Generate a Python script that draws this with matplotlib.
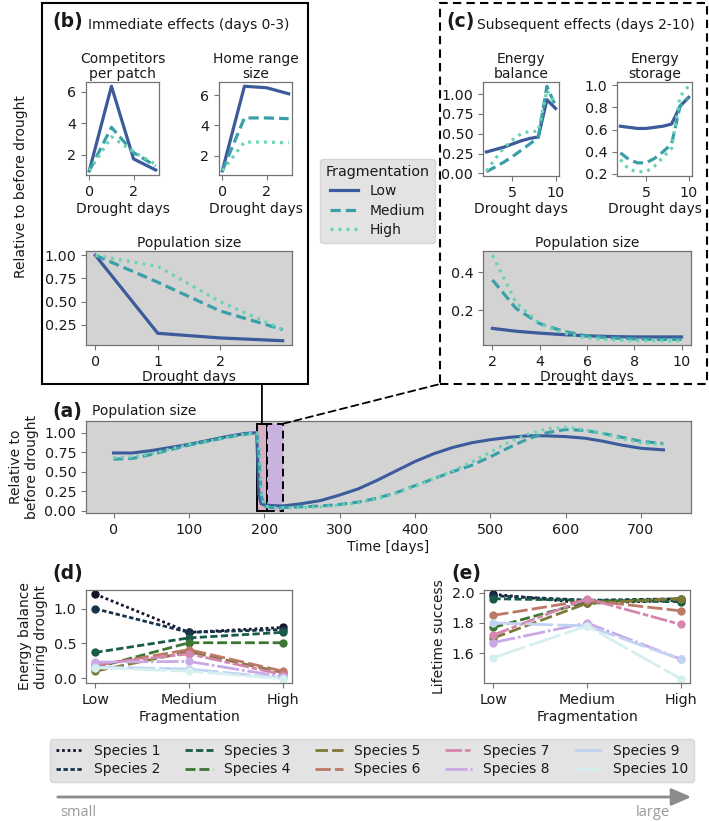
import numpy as np
import matplotlib
matplotlib.use("Agg")
import matplotlib.pyplot as plt
import matplotlib.transforms as mtransforms
import seaborn as sns
from matplotlib.patches import Rectangle, FancyArrowPatch, ConnectionPatch
from matplotlib.lines import Line2D

# ---------------- data ----------------
frag_levels = ["Low", "Medium", "High"]
frag_colors = ["#3c5b9b", "#3a9fa8", "#66d3b2"]

days_b = [0, 1, 2, 3]
comp_low = [1.0, 6.35, 1.75, 1.05]
comp_med = [1.0, 3.75, 2.15, 1.3]
comp_high = [1.0, 3.15, 2.2, 1.4]
home_low = [1.0, 6.6, 6.5, 6.1]
home_med = [1.0, 4.5, 4.5, 4.45]
home_high = [1.0, 2.9, 2.9, 2.85]
popb_low = [1.0, 0.16, 0.11, 0.08]
popb_med = [1.0, 0.71, 0.40, 0.20]
popb_high = [1.0, 0.88, 0.50, 0.20]

days_c = [2, 3, 4, 5, 6, 7, 8, 9, 10]
bal_low = [0.27, 0.30, 0.33, 0.37, 0.41, 0.44, 0.46, 0.93, 0.82]
bal_med = [0.02, 0.08, 0.14, 0.21, 0.29, 0.37, 0.45, 1.10, 0.85]
bal_high = [0.03, 0.18, 0.32, 0.42, 0.50, 0.53, 0.53, 1.05, 0.87]
sto_low = [0.63, 0.62, 0.61, 0.61, 0.62, 0.63, 0.65, 0.81, 0.89]
sto_med = [0.39, 0.33, 0.30, 0.30, 0.34, 0.40, 0.47, 0.81, 0.89]
sto_high = [0.33, 0.24, 0.22, 0.22, 0.27, 0.35, 0.43, 0.90, 0.99]
popc_low = [0.105, 0.09, 0.08, 0.072, 0.066, 0.062, 0.06, 0.06, 0.06]
popc_med = [0.36, 0.21, 0.13, 0.09, 0.065, 0.055, 0.05, 0.047, 0.047]
popc_high = [0.49, 0.24, 0.13, 0.08, 0.055, 0.045, 0.04, 0.04, 0.04]

time_days = [0, 25, 50, 75, 100, 125, 150, 175, 190, 193, 196, 200, 210, 225,
             250, 275, 300, 325, 350, 375, 400, 425, 450, 475, 500, 525, 550,
             575, 600, 625, 650, 675, 700, 730]
pop_low = [0.74, 0.74, 0.77, 0.81, 0.85, 0.90, 0.95, 0.99, 1.00, 0.20, 0.09, 0.075,
           0.065, 0.06, 0.09, 0.13, 0.20, 0.28, 0.39, 0.51, 0.63, 0.73, 0.81,
           0.87, 0.91, 0.94, 0.96, 0.96, 0.95, 0.93, 0.89, 0.84, 0.80, 0.78]
pop_med = [0.66, 0.67, 0.72, 0.78, 0.84, 0.89, 0.94, 0.98, 1.00, 0.70, 0.20, 0.06,
           0.04, 0.04, 0.05, 0.06, 0.08, 0.11, 0.16, 0.23, 0.32, 0.41, 0.50,
           0.58, 0.69, 0.81, 0.92, 1.00, 1.04, 1.03, 0.99, 0.94, 0.89, 0.86]
pop_high = [0.68, 0.69, 0.73, 0.79, 0.85, 0.89, 0.94, 0.98, 1.00, 0.85, 0.25, 0.06,
            0.04, 0.035, 0.04, 0.05, 0.07, 0.10, 0.15, 0.22, 0.31, 0.41, 0.51,
            0.62, 0.75, 0.88, 0.98, 1.05, 1.07, 1.04, 0.99, 0.92, 0.87, 0.85]
drought_windows = [(190, 204), (204, 225)]

species = [f"Species {i}" for i in range(1, 11)]
frag_x = [0, 1, 2]
energy_d = [
    [1.21, 0.66, 0.73],
    [1.00, 0.66, 0.70],
    [0.37, 0.58, 0.66],
    [0.15, 0.51, 0.51],
    [0.10, 0.38, 0.08],
    [0.18, 0.41, 0.10],
    [0.20, 0.35, 0.05],
    [0.23, 0.24, 0.02],
    [0.16, 0.13, 0.00],
    [0.15, 0.10, -0.01],
]
success_e = [
    [1.99, 1.93, 1.95],
    [1.98, 1.95, 1.96],
    [1.96, 1.95, 1.94],
    [1.77, 1.94, 1.96],
    [1.70, 1.93, 1.96],
    [1.85, 1.95, 1.88],
    [1.72, 1.96, 1.79],
    [1.67, 1.80, 1.56],
    [1.80, 1.78, 1.56],
    [1.57, 1.78, 1.43],
]

# ---------------- styling ----------------
W, H = 709, 821
plt.rcParams.update({
    "font.family": ["DejaVu Sans"],
    "font.size": 10,
    "axes.titlesize": 10,
    "axes.labelsize": 10,
    "xtick.labelsize": 10.3,
    "ytick.labelsize": 10.3,
    "legend.fontsize": 10,
    "legend.title_fontsize": 10.3,
    "axes.edgecolor": "0.45",
    "axes.linewidth": 0.9,
    "xtick.color": "0.45",
    "ytick.color": "0.45",
    "xtick.labelcolor": "0.1",
    "ytick.labelcolor": "0.1",
    "xtick.major.size": 3.5,
    "ytick.major.size": 3.5,
    "text.color": "0.1",
    "axes.labelcolor": "0.1",
})
frag_styles = ["-", (0, (3.2, 1.6)), (0, (0.9, 1.6))]
species_colors = sns.color_palette("cubehelix", 10)
species_dashes = [(0, (1, 1)), (0, (1.6, 0.9)), (0, (2.6, 1.2)), (0, (3.6, 1.4)),
                  (0, (4.5, 1.5)), (0, (5.5, 1.5)), (0, (6, 1, 2, 1)),
                  (0, (8, 1, 1, 1)), (0, (10, 1.5)), (0, (12, 1.5))]
GRAY = "#d3d3d3"

fig = plt.figure(figsize=(W / 100, H / 100), dpi=100)


def add_ax(l, t, r, b, **kw):
    return fig.add_axes([l / W, 1 - b / H, (r - l) / W, (b - t) / H], **kw)


def fy(y):
    return 1 - y / H


def plot_frag(ax, x, series, lw=2.3):
    for s, c, ls in zip(series, frag_colors, frag_styles):
        ax.plot(x, s, color=c, linestyle=ls, lw=lw)


# ---------------- panel (b) ----------------
ax = add_ax(86, 82, 159, 175)
plot_frag(ax, days_b, [comp_low, comp_med, comp_high])
ax.set_title("Competitors\nper patch", pad=3, linespacing=1.05)
ax.set_xticks([0, 2]); ax.set_yticks([2, 4, 6])
ax.set_xlabel("Drought days", labelpad=2)

ax = add_ax(219, 82, 292, 175)
plot_frag(ax, days_b, [home_low, home_med, home_high])
ax.set_title("Home range\nsize", pad=3, linespacing=1.05)
ax.set_xticks([0, 2]); ax.set_yticks([2, 4, 6])
ax.set_xlabel("Drought days", labelpad=2)

ax = add_ax(86, 251, 292, 345)
ax.set_facecolor(GRAY)
plot_frag(ax, days_b, [popb_low, popb_med, popb_high])
ax.set_title("Population size", pad=3)
ax.set_xticks([0, 1, 2]); ax.set_yticks([0.25, 0.5, 0.75, 1.0])
ax.set_xlabel("Drought days", labelpad=1)

# ---------------- panel (c) ----------------
ax = add_ax(483, 82, 559, 176)
plot_frag(ax, days_c, [bal_low, bal_med, bal_high])
ax.set_title("Energy\nbalance", pad=3, linespacing=1.05)
ax.set_xticks([5, 10]); ax.set_yticks([0, 0.25, 0.5, 0.75, 1.0])
ax.set_xlabel("Drought days", labelpad=2)

ax = add_ax(617, 82, 692, 176)
plot_frag(ax, days_c, [sto_low, sto_med, sto_high])
ax.set_title("Energy\nstorage", pad=3, linespacing=1.05)
ax.set_xticks([5, 10]); ax.set_yticks([0.2, 0.4, 0.6, 0.8, 1.0])
ax.set_xlabel("Drought days", labelpad=2)

ax = add_ax(483, 251, 691, 345)
ax.set_facecolor(GRAY)
plot_frag(ax, days_c, [popc_low, popc_med, popc_high])
ax.set_title("Population size", pad=3)
ax.set_xticks([2, 4, 6, 8, 10]); ax.set_yticks([0.2, 0.4])
ax.set_xlabel("Drought days", labelpad=1)

# boxes and labels for (b), (c)
fig.add_artist(Rectangle((42 / W, fy(384)), 266 / W, 381 / H, transform=fig.transFigure,
                         fill=False, edgecolor="black", lw=1.5))
fig.add_artist(Rectangle((440 / W, fy(384)), 267 / W, 381 / H, transform=fig.transFigure,
                         fill=False, edgecolor="black", lw=1.5, linestyle=(0, (4, 2.5))))
fig.text(52 / W, fy(21), "(b)", fontsize=13.5, fontweight="bold", va="center")
fig.text(88 / W, fy(25), "Immediate effects (days 0-3)", va="center")
fig.text(446 / W, fy(21), "(c)", fontsize=13.5, fontweight="bold", va="center")
fig.text(477 / W, fy(25), "Subsequent effects (days 2-10)", va="center")
fig.text(21 / W, fy(187), "Relative to before drought", rotation=90, va="center", ha="center")

# fragmentation legend
frag_handles = [Line2D([], [], color=c, linestyle=ls, lw=2.3)
                for c, ls in zip(frag_colors, frag_styles)]
fig.legend(frag_handles, frag_levels, title="Fragmentation", loc="upper left",
           bbox_to_anchor=(320 / W, fy(159)), borderaxespad=0, frameon=True,
           facecolor="#e3e3e3", edgecolor="#d6d6d6", framealpha=1, handlelength=2.0,
           borderpad=0.4, labelspacing=0.4)

# ---------------- panel (a) ----------------
ax_a = add_ax(86, 421, 691, 513)
ax_a.set_facecolor(GRAY)
rect_top = 1.115
rect_colors = ["#d8b0c6", "#c9b2dd"]
rect_styles = ["-", (0, (4, 2.5))]
for (x0, x1), fc, ls in zip(drought_windows, rect_colors, rect_styles):
    ax_a.add_patch(Rectangle((x0, 0), x1 - x0, rect_top, facecolor=fc, edgecolor="black",
                             lw=1.4, linestyle=ls, zorder=1.5))
plot_frag(ax_a, time_days, [pop_low, pop_med, pop_high], lw=2.2)
ax_a.set_xlim(-36.5, 766.5)
ax_a.set_ylim(-0.03, 1.15)
ax_a.set_xticks(range(0, 701, 100))
ax_a.set_yticks([0, 0.25, 0.5, 0.75, 1.0])
ax_a.set_xlabel("Time [days]", labelpad=2)
ax_a.set_ylabel("Relative to\nbefore drought")
fig.text(52 / W, fy(411), "(a)", fontsize=13.5, fontweight="bold", va="center")
fig.text(92 / W, fy(411), "Population size", va="center")

# connectors
blend = mtransforms.blended_transform_factory(ax_a.transData, fig.transFigure)
mid1 = (drought_windows[0][0] + drought_windows[0][1]) / 2
fig.add_artist(ConnectionPatch(xyA=(mid1, rect_top), coordsA=ax_a.transData,
                               xyB=(mid1, fy(384)), coordsB=blend, color="black", lw=1.3))
fig.add_artist(ConnectionPatch(xyA=(drought_windows[1][1], rect_top), coordsA=ax_a.transData,
                               xyB=(440 / W, fy(384)), coordsB=fig.transFigure,
                               color="black", lw=1.3, linestyle=(0, (4, 2.5))))

# ---------------- panel (d), (e) ----------------
ax_d = add_ax(86, 590, 292, 683)
ax_e = add_ax(484, 590, 690, 683)
for i in range(10):
    ax_d.plot(frag_x, energy_d[i], color=species_colors[i], linestyle=species_dashes[i],
              lw=2, marker="o", ms=5)
    ax_e.plot(frag_x, success_e[i], color=species_colors[i], linestyle=species_dashes[i],
              lw=2, marker="o", ms=5)
for ax in (ax_d, ax_e):
    ax.set_xticks(frag_x)
    ax.set_xticklabels(frag_levels)
    ax.set_xlabel("Fragmentation", labelpad=2)
ax_d.set_yticks([0, 0.5, 1.0])
ax_e.set_yticks([1.6, 1.8, 2.0])
ax_d.set_ylabel("Energy balance\nduring drought")
ax_e.set_ylabel("Lifetime success")
fig.text(52 / W, fy(573), "(d)", fontsize=13.5, fontweight="bold", va="center")
fig.text(451 / W, fy(573), "(e)", fontsize=13.5, fontweight="bold", va="center")

# species legend
sp_handles = [Line2D([], [], color=species_colors[i], linestyle=species_dashes[i], lw=2)
              for i in range(10)]
fig.legend(sp_handles, species, ncol=5, loc="lower left", mode="expand",
           bbox_to_anchor=(50 / W, fy(782), 644 / W, 45 / H), borderaxespad=0,
           frameon=True, facecolor="#e3e3e3", edgecolor="#d6d6d6", framealpha=1,
           handlelength=2.0, borderpad=0.4, labelspacing=0.3, columnspacing=1.0)

# size arrow
fig.add_artist(FancyArrowPatch((55 / W, fy(797)), (694 / W, fy(797)),
                               transform=fig.transFigure,
                               arrowstyle="-|>,head_length=0.8,head_width=0.35",
                               mutation_scale=15, color="#8c8c8c", lw=2))
fig.text(60 / W, fy(812), "small", color="#9a9a9a", va="center",
         family=["Open Sans", "DejaVu Sans"], fontsize=10.5)
fig.text(670 / W, fy(812), "large", color="#9a9a9a", va="center", ha="right",
         family=["Open Sans", "DejaVu Sans"], fontsize=10.5)

fig.savefig("out.png", dpi=100)
